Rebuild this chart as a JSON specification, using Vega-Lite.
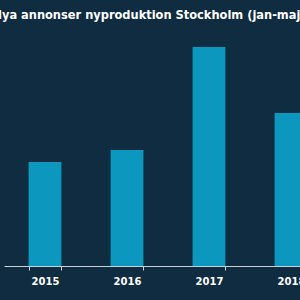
{
  "$schema": "https://vega.github.io/schema/vega-lite/v6.json",
  "autosize": "none",
  "width": 300,
  "height": 236,
  "padding": {"top": 30, "left": 0, "right": 0, "bottom": 34},
  "background": "#0f2c41",
  "title": {
    "text": "Nya annonser nyproduktion Stockholm (jan-maj)",
    "font": "DejaVu Sans Condensed",
    "fontSize": 12.7,
    "fontWeight": "bold",
    "color": "#ffffff",
    "anchor": "middle",
    "dx": -1,
    "offset": 8
  },
  "config": {"view": {"stroke": null}},
  "data": {
    "values": [
      {"year": "2015", "count": 104},
      {"year": "2016", "count": 116},
      {"year": "2017", "count": 219},
      {"year": "2018", "count": 153}
    ]
  },
  "mark": {"type": "bar", "color": "#0b97be"},
  "encoding": {
    "x": {
      "field": "year",
      "type": "ordinal",
      "scale": {"domain": ["2015", "2016", "2017", "2018"], "range": [4, 332], "paddingInner": 0.6, "paddingOuter": 0.3},
      "axis": {
        "title": null,
        "labelAngle": 0,
        "labelColor": "#ffffff",
        "labelFont": "DejaVu Sans",
        "labelFontWeight": "bold",
        "labelFontSize": 10,
        "labelPadding": 6,
        "domainColor": "#c8d0d8",
        "domainWidth": 1,
        "tickColor": "#c8d0d8",
        "tickSize": 4,
        "tickBand": "extent",
        "grid": false
      }
    },
    "y": {
      "field": "count",
      "type": "quantitative",
      "scale": {"domain": [0, 236], "nice": false},
      "axis": null
    }
  }
}
